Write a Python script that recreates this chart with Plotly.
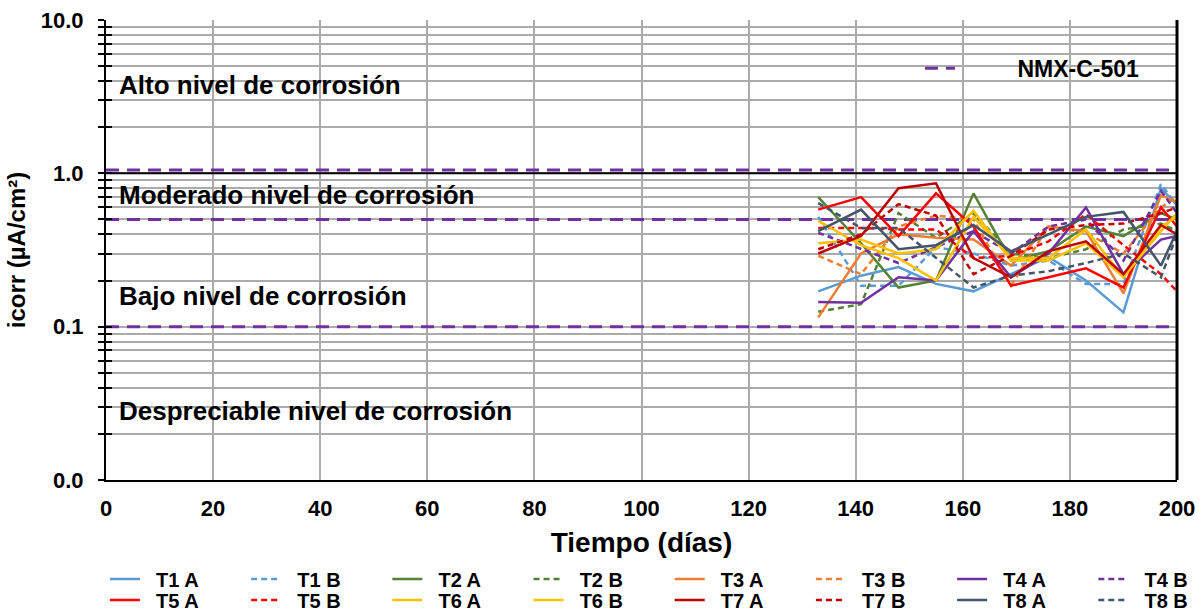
import math
import plotly.graph_objects as go

# Measurement days
dias = [133, 141, 148, 155, 162, 169, 176, 183, 190, 197, 200]

# Corrosion current density (µA/cm²) per specimen
t1_a = [0.17, 0.215, 0.245, 0.19, 0.17, 0.22, 0.285, 0.20, 0.124, 0.80, 0.62]
t1_b = [0.52, 0.185, 0.185, 0.33, 0.30, 0.25, 0.27, 0.19, 0.19, 0.85, 0.62]
t2_a = [0.70, 0.35, 0.18, 0.20, 0.74, 0.27, 0.31, 0.45, 0.39, 0.55, 0.50]
t2_b = [0.125, 0.14, 0.55, 0.38, 0.55, 0.30, 0.28, 0.32, 0.43, 0.47, 0.42]
t3_a = [0.115, 0.30, 0.40, 0.38, 0.37, 0.25, 0.45, 0.42, 0.165, 0.72, 0.65]
t3_b = [0.29, 0.22, 0.45, 0.53, 0.50, 0.185, 0.45, 0.41, 0.30, 0.60, 0.70]
t4_a = [0.145, 0.143, 0.21, 0.20, 0.42, 0.21, 0.30, 0.60, 0.22, 0.37, 0.39]
t4_b = [0.41, 0.32, 0.26, 0.33, 0.42, 0.30, 0.45, 0.50, 0.27, 0.77, 0.55]
t5_a = [0.58, 0.70, 0.39, 0.74, 0.45, 0.185, 0.21, 0.24, 0.18, 0.60, 0.45]
t5_b = [0.44, 0.44, 0.43, 0.43, 0.28, 0.29, 0.36, 0.54, 0.34, 0.22, 0.17]
t6_a = [0.35, 0.37, 0.30, 0.32, 0.57, 0.27, 0.27, 0.35, 0.21, 0.42, 0.55]
t6_b = [0.49, 0.34, 0.28, 0.20, 0.52, 0.28, 0.28, 0.43, 0.21, 0.45, 0.52]
t7_a = [0.30, 0.39, 0.80, 0.86, 0.28, 0.21, 0.31, 0.36, 0.22, 0.46, 0.40]
t7_b = [0.32, 0.40, 0.63, 0.53, 0.22, 0.29, 0.43, 0.46, 0.47, 0.55, 0.60]
t8_a = [0.42, 0.58, 0.32, 0.34, 0.46, 0.31, 0.40, 0.52, 0.56, 0.25, 0.42]
t8_b = [0.64, 0.44, 0.44, 0.28, 0.18, 0.215, 0.23, 0.26, 0.30, 0.21, 0.40]

# NMX-C-501 corrosion level thresholds
nmx_limites = [1.05, 0.5, 0.1]
eje_x = [0, 200]

# Zone labels and the y value where each is written
zonas = ["Alto nivel de corrosión", "Moderado nivel de corrosión",
         "Bajo nivel de corrosión", "Despreciable nivel de corrosión"]
zonas_y = [3.75, 0.72, 0.159, 0.028]

y_tickvals = [0.01, 0.1, 1, 10]
y_ticktext = ["0.0", "0.1", "1.0", "10.0"]

series = [
    ("T1 A", t1_a, "#5B9BD5", "solid"), ("T1 B", t1_b, "#5B9BD5", "dash"),
    ("T2 A", t2_a, "#548235", "solid"), ("T2 B", t2_b, "#548235", "dash"),
    ("T3 A", t3_a, "#ED7D31", "solid"), ("T3 B", t3_b, "#ED7D31", "dash"),
    ("T4 A", t4_a, "#7030A0", "solid"), ("T4 B", t4_b, "#7030A0", "dash"),
    ("T5 A", t5_a, "#FF0000", "solid"), ("T5 B", t5_b, "#FF0000", "dash"),
    ("T6 A", t6_a, "#FFC000", "solid"), ("T6 B", t6_b, "#FFC000", "solid"),
    ("T7 A", t7_a, "#C00000", "solid"), ("T7 B", t7_b, "#C00000", "dash"),
    ("T8 A", t8_a, "#44546A", "solid"), ("T8 B", t8_b, "#44546A", "dash"),
]

FONT = "Arial, Liberation Sans, sans-serif"
GRID = "#ABABAB"
PAD = "&nbsp;"

fig = go.Figure()

# Threshold lines (one trace, gaps between segments)
nx, ny = [], []
for v in nmx_limites:
    nx += eje_x + [None]
    ny += [v, v, None]
fig.add_trace(go.Scatter(
    x=nx, y=ny, mode="lines",
    name=PAD * 9 + "NMX-C-501",
    legend="legend2",
    line=dict(color="#7030A0", width=3, dash="13px,8px"),
))

# Specimens T1-T4 go in the first legend row, T5-T8 in the second
for i, (nombre, valores, color, estilo) in enumerate(series):
    fig.add_trace(go.Scatter(
        x=dias, y=valores, mode="lines", name=PAD * 2 + nombre,
        legend="legend" if i < 8 else "legend3",
        line=dict(color=color, width=2.5,
                  dash="6px,4px" if estilo == "dash" else "solid"),
    ))

# Overlay axis carrying the inward half of the crossing ticks
fig.add_trace(go.Scatter(x=[None], y=[None], yaxis="y2", showlegend=False))

minor_vals = [k * 10 ** d for d in (-2, -1, 0) for k in range(2, 10)]

fila = dict(
    orientation="h", x=-0.001, xanchor="left", yanchor="middle",
    entrywidth=96.2, entrywidthmode="pixels",
    font=dict(size=20, family=FONT, weight="bold"),
    tracegroupgap=0, itemwidth=30, bgcolor="rgba(0,0,0,0)",
)

fig.update_layout(
    width=1203, height=613,
    margin=dict(l=106, r=26, t=20, b=133, autoexpand=False),
    paper_bgcolor="white", plot_bgcolor="white",
    font=dict(family=FONT, color="black"),
    xaxis=dict(
        range=[0, 200], dtick=20, tick0=0,
        showgrid=True, gridcolor=GRID, gridwidth=1.5,
        showline=True, linecolor="black", linewidth=2,
        ticks="", zeroline=False, ticklabelstandoff=8,
        tickfont=dict(size=22, family=FONT, weight="bold"),
        title=dict(text="<b>Tiempo (días)</b>", font=dict(size=28), standoff=12),
    ),
    yaxis=dict(
        type="log", range=[-2, 1],
        tickmode="array", tickvals=y_tickvals, ticktext=y_ticktext,
        showgrid=True, gridcolor=GRID, gridwidth=1.5,
        showline=True, linecolor="black", linewidth=2,
        ticks="outside", ticklen=6, tickwidth=2, tickcolor="black",
        minor=dict(tickmode="array", tickvals=minor_vals, ticks="outside",
                   ticklen=6, tickwidth=2, tickcolor="black",
                   showgrid=True, gridcolor=GRID, gridwidth=1.5),
        zeroline=False, ticklabelstandoff=10,
        tickfont=dict(size=22, family=FONT, weight="bold"),
        title=dict(text="<b>icorr (µA/cm²)</b>", font=dict(size=24), standoff=8),
    ),
    yaxis2=dict(
        type="log", range=[-2, 1], overlaying="y", side="left",
        tickmode="array", tickvals=y_tickvals, showticklabels=False,
        showgrid=False, zeroline=False,
        ticks="inside", ticklen=6, tickwidth=2, tickcolor="black",
        minor=dict(tickmode="array", tickvals=minor_vals, ticks="inside",
                   ticklen=6, tickwidth=2, tickcolor="black", showgrid=False),
    ),
    legend=dict(fila, y=-0.215),
    legend3=dict(fila, y=-0.261),
    legend2=dict(
        x=0.76, y=0.895, xanchor="left", yanchor="middle",
        font=dict(size=23, family=FONT, weight="bold"),
        bgcolor="rgba(0,0,0,0)",
    ),
    showlegend=True,
)

# Black reference line at 1.0 and right frame edge
fig.add_shape(type="line", xref="paper", yref="y", x0=0, x1=1, y0=1, y1=1,
              line=dict(color="black", width=2))
fig.add_shape(type="line", xref="paper", yref="paper", x0=1, x1=1, y0=0, y1=1,
              line=dict(color="black", width=3))

for texto, yv in zip(zonas, zonas_y):
    fig.add_annotation(x=2, y=math.log10(yv), xref="x", yref="y", yanchor="middle",
                       text=f"<b>{texto}</b>", showarrow=False, xanchor="left",
                       font=dict(size=26, family=FONT, color="black"))

fig.write_html("out.html")
